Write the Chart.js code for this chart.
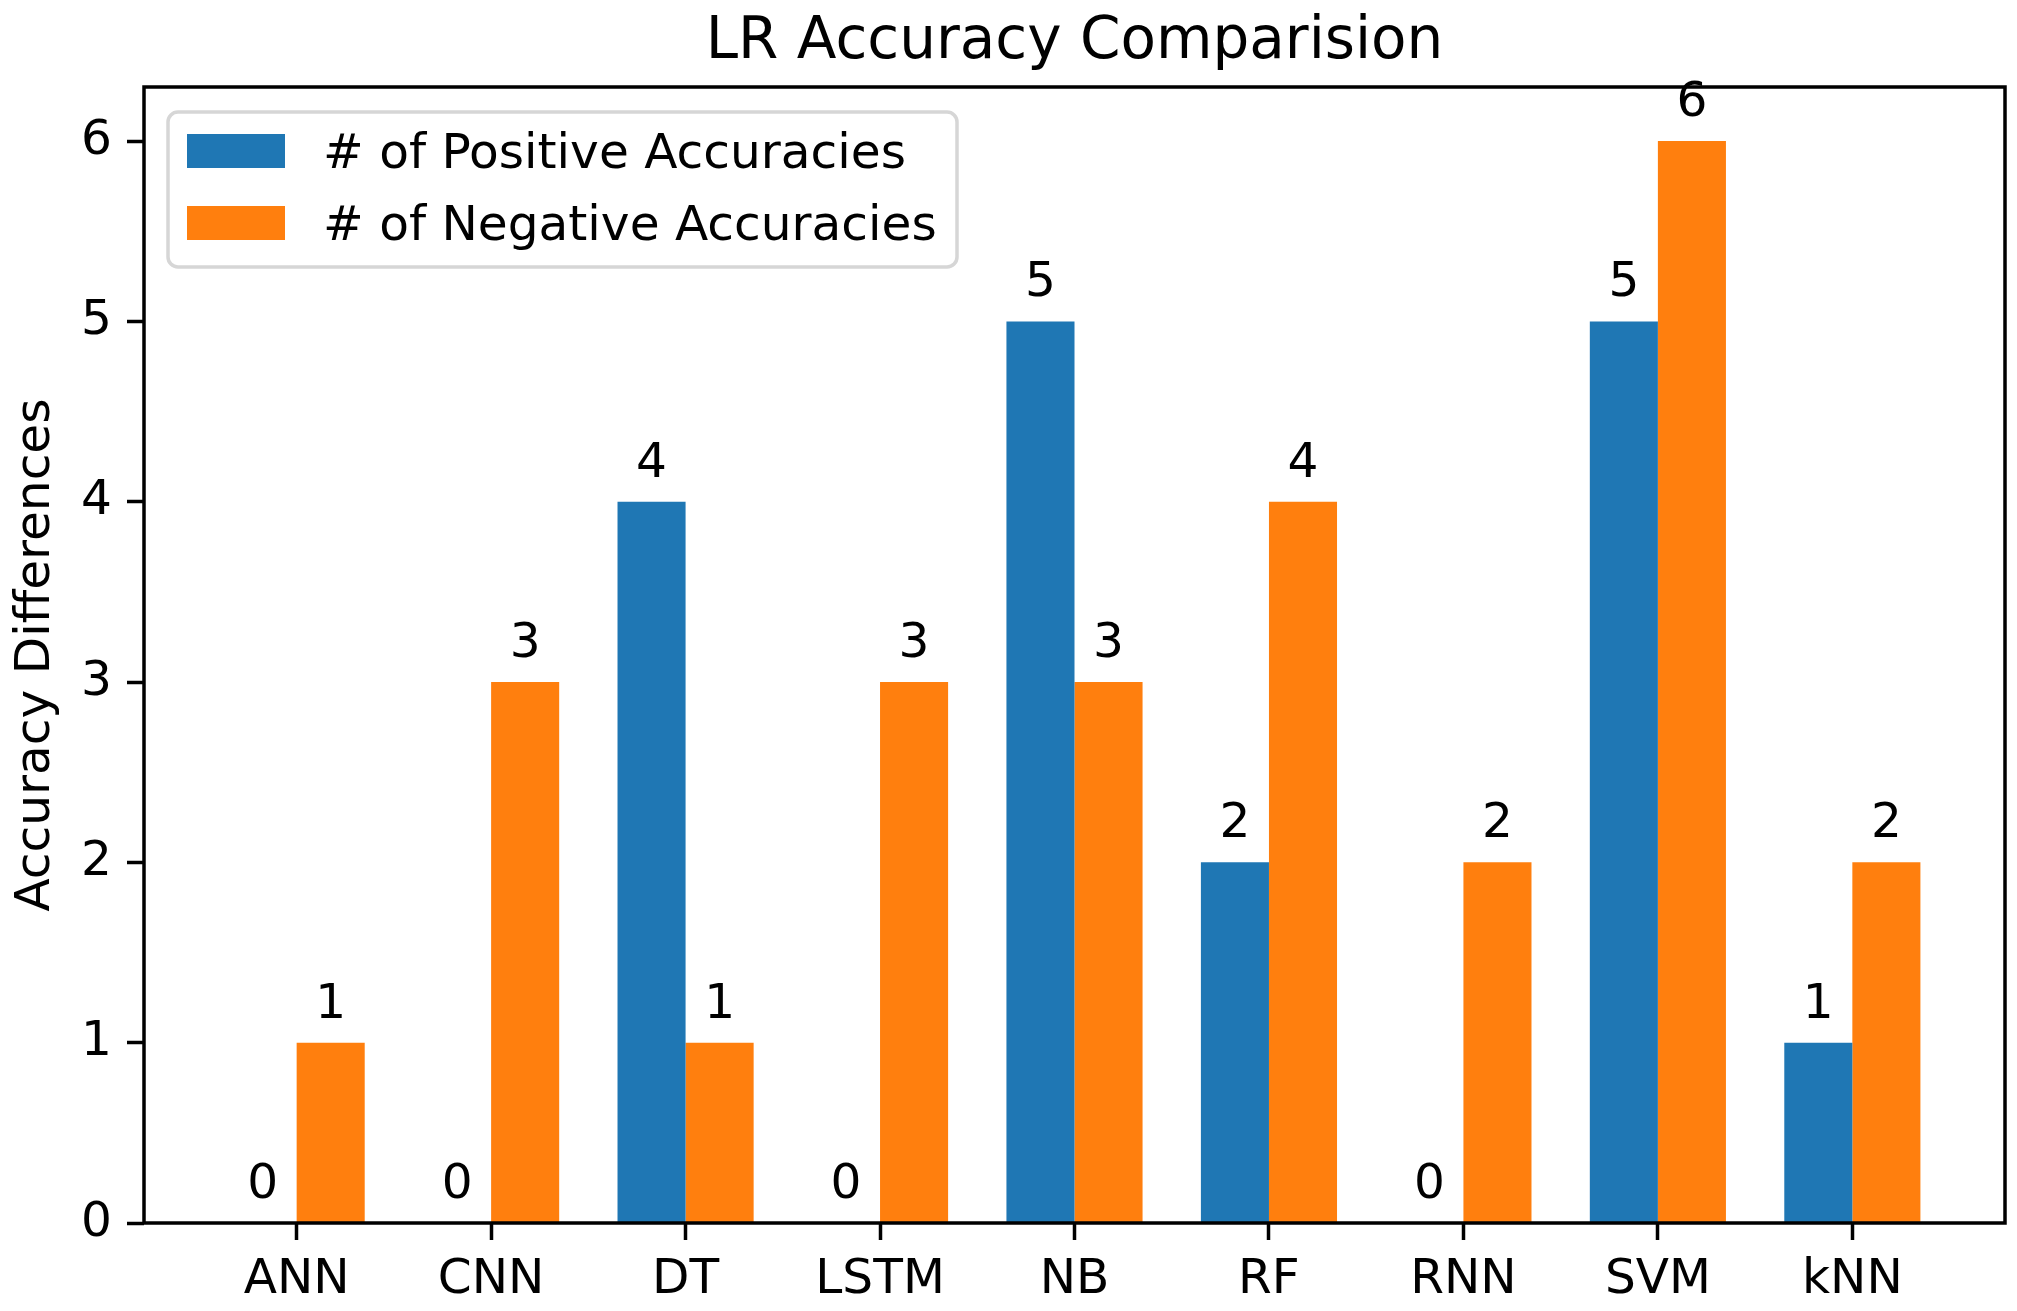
<!DOCTYPE html>
<html>
<head>
<meta charset="utf-8">
<script src="https://cdn.jsdelivr.net/npm/chart.js@4.4.0/dist/chart.umd.min.js"></script>
<style>
  html, body { margin: 0; padding: 0; background: #fff; }
  canvas { display: block; }
</style>
</head>
<body>
<canvas id="chart" width="2017" height="1311"></canvas>
<script>
const titleText = "LR Accuracy Comparision";
const models = ["ANN", "CNN", "DT", "LSTM", "NB", "RF", "RNN", "SVM", "kNN"];
const positiveCounts = [0, 0, 4, 0, 5, 2, 0, 5, 1];
const negativeCounts = [1, 3, 1, 3, 3, 4, 2, 6, 2];
const seriesNames = ["# of Positive Accuracies", "# of Negative Accuracies"];
const seriesColors = ["#1f77b4", "#ff7f0e"];

const FONT = '"DejaVu Sans"';
const tickFont = { family: FONT, size: 48.6 };

// draws value labels, frame, title and legend on top of the bars
const overlay = {
  id: "overlay",
  afterDatasetsDraw(chart) {
    const { ctx, chartArea: a } = chart;
    ctx.save();
    ctx.fillStyle = "#000";
    ctx.font = `48.6px ${FONT}`;
    ctx.textAlign = "center";
    ctx.textBaseline = "alphabetic";
    chart.data.datasets.forEach((ds, i) => {
      chart.getDatasetMeta(i).data.forEach((bar, j) => {
        ctx.fillText(String(ds.data[j].y), bar.x, bar.y - 25);
      });
    });

    ctx.lineWidth = 3.5;
    ctx.strokeStyle = "#000";
    ctx.strokeRect(a.left, a.top, a.right - a.left, a.bottom - a.top);

    ctx.font = `58px ${FONT}`;
    ctx.fillText(titleText, (a.left + a.right) / 2, a.top - 29);

    // legend
    const lx = a.left + 24, ly = a.top + 25;
    ctx.beginPath();
    ctx.roundRect(lx, ly, 789, 155, 10);
    ctx.fillStyle = "rgba(255,255,255,0.8)";
    ctx.fill();
    ctx.lineWidth = 3.5;
    ctx.strokeStyle = "#d6d6d6";
    ctx.stroke();
    ctx.font = `48.6px ${FONT}`;
    ctx.textAlign = "left";
    ctx.textBaseline = "middle";
    seriesNames.forEach((name, i) => {
      const cy = ly + 39 + i * 72;
      ctx.fillStyle = seriesColors[i];
      ctx.fillRect(lx + 19, cy - 17, 98, 34);
      ctx.fillStyle = "#000";
      ctx.fillText(name, lx + 155, cy + 4);
    });
    ctx.restore();
  }
};

new Chart(document.getElementById("chart"), {
  type: "bar",
  data: {
    datasets: [positiveCounts, negativeCounts].map((vals, i) => ({
      label: seriesNames[i],
      data: vals.map((v, j) => ({ x: j, y: v })),
      backgroundColor: seriesColors[i],
      borderWidth: 0,
      categoryPercentage: 0.7,
      barPercentage: 1.0,
    })),
  },
  options: {
    responsive: false,
    animation: false,
    devicePixelRatio: 1,
    layout: { padding: { top: 87, right: 12, left: 0, bottom: 0 } },
    plugins: { legend: { display: false }, title: { display: false }, tooltip: { enabled: false } },
    scales: {
      x: {
        type: "linear",
        min: -0.785,
        max: 8.785,
        offset: false,
        grid: { offset: false, drawOnChartArea: false, drawTicks: true, tickLength: 17, tickWidth: 3.5, tickColor: "#000" },
        border: { display: false },
        ticks: {
          stepSize: 1,
          includeBounds: false,
          autoSkip: false,
          maxRotation: 0,
          padding: 11,
          color: "#000",
          font: tickFont,
          callback: (v) => (Number.isInteger(v) ? models[v] : ""),
        },
        afterFit: (s) => { s.height = 88; },
      },
      y: {
        min: 0,
        max: 6.3,
        grid: { drawOnChartArea: false, drawTicks: true, tickLength: 17, tickWidth: 3.5, tickColor: "#000" },
        border: { display: false },
        ticks: { stepSize: 1, includeBounds: false, padding: 15, color: "#000", font: tickFont },
        title: { display: true, text: "Accuracy Differences", color: "#000", font: tickFont, padding: { top: 7, bottom: 0 } },
        afterFit: (s) => { s.width = 144; },
      },
    },
  },
  plugins: [overlay],
});
</script>
</body>
</html>
